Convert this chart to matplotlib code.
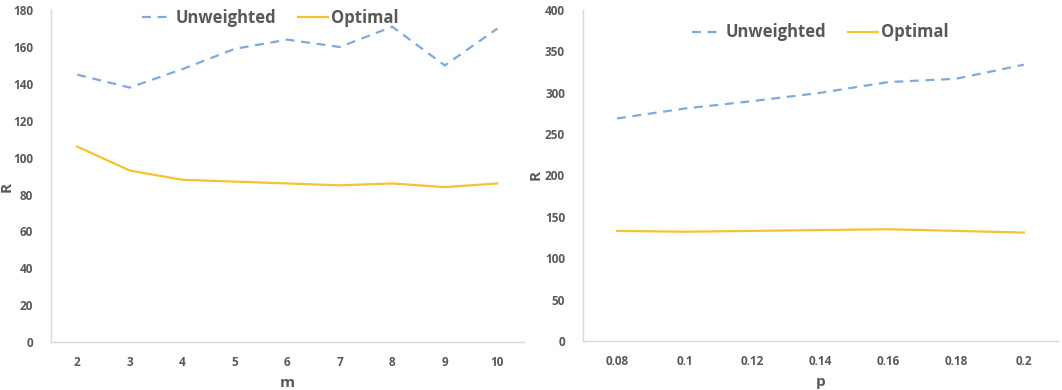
import matplotlib.pyplot as plt

# data
m_vals = ["2", "3", "4", "5", "6", "7", "8", "9", "10"]
m_unweighted = [145, 138, 148, 159, 164, 160, 171, 150, 170]
m_optimal = [106, 93, 88, 87, 86, 85, 86, 84, 86]

p_vals = ["0.08", "0.1", "0.12", "0.14", "0.16", "0.18", "0.2"]
p_unweighted = [269, 281, 290, 300, 313, 317, 334]
p_optimal = [133, 132, 133, 134, 135, 133, 131]

BLUE = "#7FAADB"
GOLD = "#F7C230"
GREY = "#595959"
SPINE = "#D9D9D9"

plt.rcParams["font.family"] = ["Open Sans", "DejaVu Sans"]
plt.rcParams["font.weight"] = "bold"

fig = plt.figure(figsize=(10.62, 3.9), dpi=100)
ax1 = fig.add_axes([0.048, 0.123, 0.445, 0.851])
ax2 = fig.add_axes([0.549, 0.126, 0.447, 0.848])


def style(ax, cats, ymax, ystep, xlabel):
    ax.set_xlim(-0.5, len(cats) - 0.5)
    ax.set_ylim(0, ymax)
    ax.set_xticks(range(len(cats)))
    ax.set_xticklabels(cats)
    ax.set_yticks(range(0, ymax + 1, ystep))
    for s in ["top", "right"]:
        ax.spines[s].set_visible(False)
    for s in ["left", "bottom"]:
        ax.spines[s].set_color(SPINE)
        ax.spines[s].set_linewidth(1.0)
    ax.tick_params(length=0, colors=GREY, labelsize=8.5, pad=10)
    ax.tick_params(axis="y", pad=13)
    for lab in ax.get_xticklabels() + ax.get_yticklabels():
        lab.set_fontweight("bold")
    ax.set_xlabel(xlabel, color=GREY, fontsize=11, fontweight="bold", labelpad=5)


for ax, cats, unw, opt, ymax, ystep, xl, leg_x, leg_y in [
    (ax1, m_vals, m_unweighted, m_optimal, 180, 20, "m", 0.465, 1.05),
    (ax2, p_vals, p_unweighted, p_optimal, 400, 50, "p", 0.50, 1.005),
]:
    x = list(range(len(cats)))
    ax.plot(x, unw, color=BLUE, lw=1.6, ls=(0, (4, 3)), label="Unweighted")
    ax.plot(x, opt, color=GOLD, lw=1.6, label="Optimal")
    style(ax, cats, ymax, ystep, xl)
    leg = ax.legend(loc="upper center", bbox_to_anchor=(leg_x, leg_y),
                    ncol=2, frameon=False, fontsize=12, handlelength=1.8,
                    handletextpad=0.2, columnspacing=1.3)
    for t in leg.get_texts():
        t.set_color(GREY)
        t.set_fontweight("bold")

fig.text(0.0, 0.52, "R", rotation=90, color=GREY, fontsize=11, fontweight="bold",
         va="center", ha="left")
fig.text(0.498, 0.55, "R", rotation=90, color=GREY, fontsize=11, fontweight="bold",
         va="center", ha="left")

fig.savefig("out.png", dpi=100)
